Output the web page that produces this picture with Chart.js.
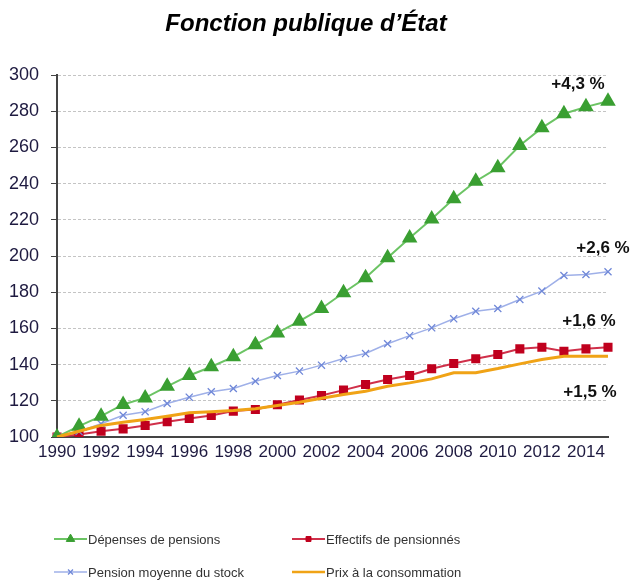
<!DOCTYPE html>
<html>
<head>
<meta charset="utf-8">
<script src="https://cdn.jsdelivr.net/npm/chart.js@4/dist/chart.umd.min.js"></script>
<style>
  html, body { margin: 0; padding: 0; background: #fff; }
  #wrap { width: 632px; height: 583px; position: relative; }
</style>
</head>
<body>
<div id="wrap"><canvas id="c" width="632" height="583"></canvas></div>
<script>
const years = [1990,1991,1992,1993,1994,1995,1996,1997,1998,1999,2000,2001,2002,2003,2004,2005,2006,2007,2008,2009,2010,2011,2012,2013,2014,2015];

const depensesPensions = [100,106,111.5,118,121.6,128,134,138.8,144.3,151,157.5,164,171,179.7,188,199,210,220.5,231.6,241.3,248.7,261,270.8,278.6,282.4,285.5];
const effectifsPensionnes = [100,101.4,103.2,104.5,106.4,108.4,110.2,111.9,114.3,115.2,117.8,120.4,122.9,125.9,129,131.8,134,137.7,140.6,143.2,145.6,148.7,149.6,147.4,148.7,149.6];
const pensionMoyenne = [100,103,107.3,112,114,118.5,122,125,126.8,130.8,134,136.4,139.7,143.4,146.1,151.5,156,160.3,165.3,169.5,171,176,180.6,189.2,189.8,191.3];
const prixConsommation = [100,103.2,106.4,108.2,109.7,111.5,113.4,113.9,114.6,115.6,117.4,119.2,121.4,123.5,125.3,128,129.9,132.1,135.5,135.5,137.8,140.4,142.8,144.6,144.6,144.6];

const seriesNames = ['Dépenses de pensions','Effectifs de pensionnés','Pension moyenne du stock','Prix à la consommation'];
const growthLabels = ['+4,3 %','+1,6 %','+2,6 %','+1,5 %'];
const yTicks = [100,120,140,160,180,200,220,240,260,280,300];
const titleText = 'Fonction publique d’État';

const FONT = 'Arial, "Liberation Sans", sans-serif';

const datasets = [
  { label: seriesNames[0], data: depensesPensions, borderColor: '#6cc464', backgroundColor: '#3a9f32',
    borderWidth: 2, pointStyle: 'triangle', pointRadius: 7, pointBorderColor: '#3a9f32', pointBackgroundColor: '#3a9f32', order: 1 },
  { label: seriesNames[1], data: effectifsPensionnes, borderColor: '#d0304a', backgroundColor: '#c0001e',
    borderWidth: 2, pointStyle: 'rect', pointRadius: 5, pointBorderColor: '#c0001e', pointBackgroundColor: '#c0001e', order: 3 },
  { label: seriesNames[2], data: pensionMoyenne, borderColor: '#9fb0e8', backgroundColor: '#7088d8',
    borderWidth: 1.5, pointStyle: 'crossRot', pointRadius: 5, pointBorderWidth: 1.3, pointBorderColor: '#7088d8', order: 2 },
  { label: seriesNames[3], data: prixConsommation, borderColor: '#f0a316', backgroundColor: '#f0a316',
    borderWidth: 3, pointRadius: 0, order: 0 }
];

const annotationPlugin = {
  id: 'growthLabels',
  afterDatasetsDraw(chart) {
    const ctx = chart.ctx;
    const xs = chart.scales.x, ys = chart.scales.y;
    const offs = [[-30,-17],[-19,-26],[-5,-23],[-18,36]];
    ctx.save();
    ctx.font = 'bold 17px ' + FONT;
    ctx.fillStyle = '#111';
    ctx.textAlign = 'center';
    ctx.textBaseline = 'middle';
    growthLabels.forEach((t, i) => {
      const d = chart.data.datasets[i].data;
      const last = d.length - 1;
      const px = xs.getPixelForValue(last);
      const py = ys.getPixelForValue(d[last]);
      ctx.fillText(t, px + offs[i][0], py + offs[i][1]);
    });
    ctx.restore();
  }
};

const titlePlugin = {
  id: 'titleDraw',
  afterDraw(chart) {
    const ctx = chart.ctx;
    ctx.save();
    ctx.font = 'italic bold 24px ' + FONT;
    ctx.fillStyle = '#000';
    ctx.textAlign = 'center';
    ctx.textBaseline = 'middle';
    ctx.fillText(titleText, 306, 24);
    ctx.restore();
  }
};

const legendPlugin = {
  id: 'gridLegend',
  afterDraw(chart) {
    const ctx = chart.ctx;
    const slots = [[54, 539], [292, 539], [54, 572], [292, 572]];
    ctx.save();
    chart.data.datasets.forEach((ds, i) => {
      const [x, y] = slots[i];
      const w = 33;
      ctx.strokeStyle = ds.borderColor;
      ctx.lineWidth = Math.min(ds.borderWidth, 2.5);
      ctx.beginPath(); ctx.moveTo(x, y); ctx.lineTo(x + w, y); ctx.stroke();
      if (ds.pointRadius > 0) {
        ctx.fillStyle = ds.pointBackgroundColor || ds.backgroundColor;
        ctx.strokeStyle = ds.pointBorderColor || ds.borderColor;
        ctx.lineWidth = ds.pointBorderWidth || 1;
        Chart.helpers.drawPoint(ctx, { pointStyle: ds.pointStyle, radius: ds.pointRadius * 0.7, borderWidth: ds.pointBorderWidth || 1, rotation: 0 }, x + w / 2, y);
      }
      ctx.font = '13px ' + FONT;
      ctx.fillStyle = '#333';
      ctx.textAlign = 'left';
      ctx.textBaseline = 'middle';
      ctx.fillText(ds.label, x + w + 1, y + 1);
    });
    ctx.restore();
  }
};

new Chart(document.getElementById('c'), {
  type: 'line',
  data: { labels: years.map(String), datasets },
  options: {
    responsive: false,
    animation: false,
    devicePixelRatio: 1,
    layout: { padding: { left: 0, right: 24, top: 75, bottom: 116 } },
    plugins: { legend: { display: false }, title: { display: false }, tooltip: { enabled: false } },
    elements: { line: { tension: 0 } },
    scales: {
      x: {
        type: 'category',
        offset: false,
        afterFit(s) { s.height = 30; },
        grid: { display: false, drawTicks: false },
        border: { display: true, color: '#444', width: 2 },
        ticks: {
          autoSkip: false, maxRotation: 0, minRotation: 0, padding: 5,
          color: '#1e1a40', font: { family: FONT, size: 17 },
          callback(v, i) { return i % 2 === 0 ? years[i] : null; }
        }
      },
      y: {
        min: 100, max: 300,
        afterFit(s) { s.width = 57; },
        afterBuildTicks(s) { s.ticks = yTicks.map(v => ({ value: v })); },
        grid: { color: '#c4c4c4', lineWidth: 1, tickLength: 6, tickColor: '#444', tickBorderDash: [], drawTicks: true },
        border: { display: true, color: '#444', width: 2, dash: [3, 2] },
        ticks: { padding: 12, color: '#1e1a40', font: { family: FONT, size: 18 } }
      }
    }
  },
  plugins: [annotationPlugin, titlePlugin, legendPlugin]
});
</script>
</body>
</html>
